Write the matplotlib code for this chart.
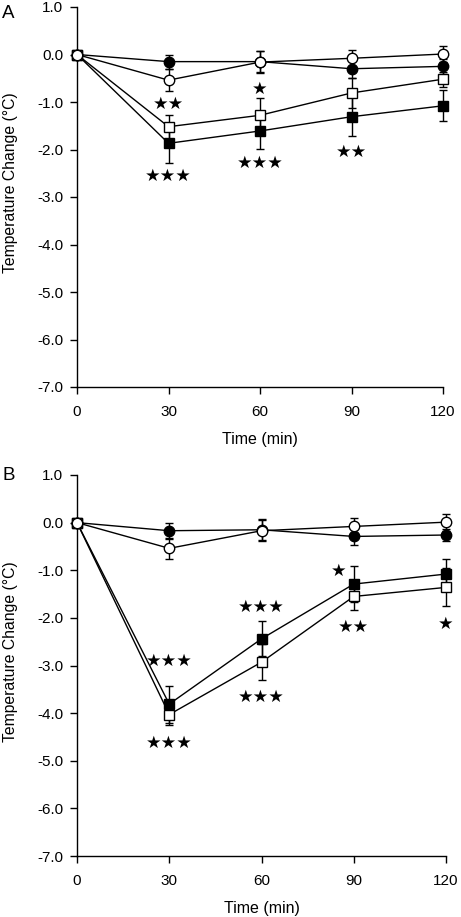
import matplotlib
matplotlib.use("Agg")
import matplotlib.pyplot as plt
import numpy as np

plt.rcParams['font.family'] = ['Liberation Sans', 'DejaVu Sans']

time = [0, 30, 60, 90, 120]

# Panel A
a_fc = [0, -0.15, -0.15, -0.30, -0.25]
a_fc_err = [0, 0.15, 0.22, 0.20, 0.15]
a_oc = [0, -0.54, -0.16, -0.08, 0.01]
a_oc_err = [0, 0.23, 0.23, 0.18, 0.17]
a_os = [0, -1.52, -1.28, -0.81, -0.52]
a_os_err = [0, 0.25, 0.37, 0.32, 0.16]
a_fs = [0, -1.87, -1.61, -1.31, -1.08]
a_fs_err = [0, 0.42, 0.38, 0.41, 0.33]
a_stars_text = ["★★", "★", "★★★", "★★★", "★★"]
a_stars_x = [30, 60, 30, 60, 90]
a_stars_y = [-1.05, -0.72, -2.56, -2.29, -2.06]

# Panel B
b_fc = [0, -0.17, -0.15, -0.29, -0.26]
b_fc_err = [0, 0.17, 0.22, 0.18, 0.13]
b_oc = [0, -0.54, -0.17, -0.08, 0.01]
b_oc_err = [0, 0.22, 0.22, 0.18, 0.18]
b_fs = [0, -3.81, -2.44, -1.29, -1.08]
b_fs_err = [0, 0.39, 0.37, 0.38, 0.32]
b_os = [0, -4.03, -2.93, -1.55, -1.36]
b_os_err = [0, 0.21, 0.38, 0.28, 0.40]
b_stars_text = ["★★★", "★★★", "★★★", "★★★", "★", "★★", "★"]
b_stars_x = [30, 30, 60, 60, 85.2, 90, 120]
b_stars_y = [-2.90, -4.63, -1.76, -3.65, -1.01, -2.20, -2.13]

yticks = [1.0, 0.0, -1.0, -2.0, -3.0, -4.0, -5.0, -6.0, -7.0]
xticks = [0, 30, 60, 90, 120]

W, H = 461, 917
fig = plt.figure(figsize=(W / 100, H / 100), dpi=100)

def px_axes(left, right, top, bottom):
    return fig.add_axes([left / W, 1 - bottom / H, (right - left) / W, (bottom - top) / H])

axA = px_axes(77, 443, 7, 387)
axB = px_axes(77, 446, 475, 856)

def draw(ax, series, stx, sty, sttxt, letter, width_px, letter_y):
    for y, e, marker, fc in series:
        ax.errorbar(time, y, yerr=e, color='black', marker=marker, markerfacecolor=fc,
                    markeredgecolor='black', markersize=7.5,
                    markeredgewidth=1.0, linewidth=1.0, elinewidth=1.0, capsize=3,
                    capthick=1.0, clip_on=False, zorder=3)
    for x, y, t in zip(stx, sty, sttxt):
        ax.text(x, y, t, ha='center', va='center', fontsize=12.5,
                family=['DejaVu Sans'], color='black')
    ax.set_xlim(0, 120)
    ax.set_ylim(-7, 1)
    ax.set_xticks(xticks)
    ax.set_yticks(yticks)
    ax.set_yticklabels([f"{v:.1f}" for v in yticks])
    ax.spines['top'].set_visible(False)
    ax.spines['right'].set_visible(False)
    for s in ['left', 'bottom']:
        ax.spines[s].set_linewidth(1.0)
    ax.tick_params(direction='out', length=5, width=1.0, labelsize=11)
    ax.tick_params(axis='y', pad=5)
    ax.tick_params(axis='x', pad=8)
    ax.set_xlabel("Time (min)", fontsize=11.5, labelpad=9)
    ax.set_ylabel("Temperature Change (°C)", fontsize=11.3)
    ax.yaxis.set_label_coords((18 - 77) / width_px, 0.537)
    ax.text((2 - 77) / width_px, letter_y, letter, transform=ax.transAxes, fontsize=13.5,
            ha='left', va='center')

draw(axA, [(a_fs, a_fs_err, 's', 'black'), (a_os, a_os_err, 's', 'white'),
           (a_fc, a_fc_err, 'o', 'black'), (a_oc, a_oc_err, 'o', 'white')],
     a_stars_x, a_stars_y, a_stars_text, 'A', 366, 0.982)
draw(axB, [(b_fs, b_fs_err, 's', 'black'), (b_os, b_os_err, 's', 'white'),
           (b_fc, b_fc_err, 'o', 'black'), (b_oc, b_oc_err, 'o', 'white')],
     b_stars_x, b_stars_y, b_stars_text, 'B', 369, 1.0)

fig.savefig("out.png", dpi=100)
